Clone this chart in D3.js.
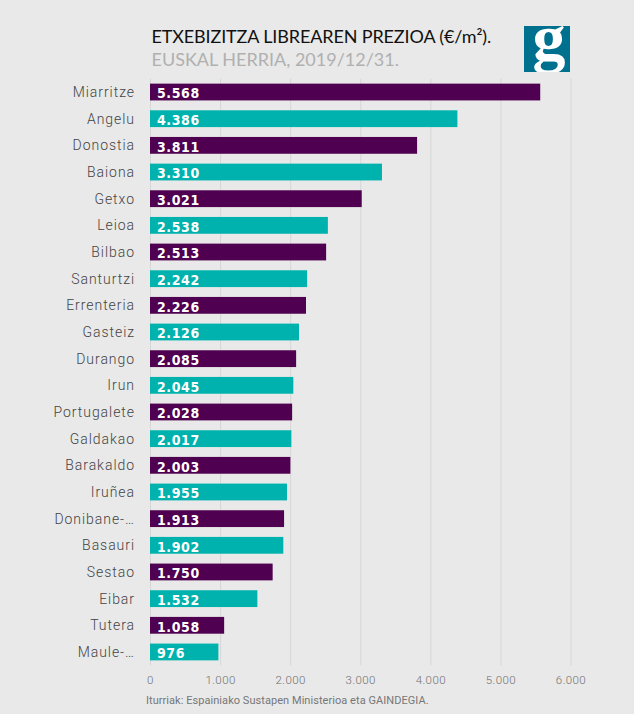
<!DOCTYPE html>
<html>
<head>
<meta charset="utf-8">
<script src="https://d3js.org/d3.v7.min.js"></script>
<style>
  html, body { margin: 0; padding: 0; background: #e9e9e9; }
  svg { display: block; }
  .tick line { stroke: #d6d6d6; }
</style>
</head>
<body>
<div id="chart"></div>
<script>
const towns = ['Miarritze', 'Angelu', 'Donostia', 'Baiona', 'Getxo', 'Leioa', 'Bilbao', 'Santurtzi',
  'Errenteria', 'Gasteiz', 'Durango', 'Irun', 'Portugalete', 'Galdakao', 'Barakaldo', 'Iruñea',
  'Donibane-…', 'Basauri', 'Sestao', 'Eibar', 'Tutera', 'Maule-…'];
const prices = [5568, 4386, 3811, 3310, 3021, 2538, 2513, 2242, 2226, 2126, 2085, 2045, 2028, 2017,
  2003, 1955, 1913, 1902, 1750, 1532, 1058, 976];
const xTicks = [0, 1000, 2000, 3000, 4000, 5000, 6000];
const barColors = ['#4f0050', '#00b2ad'];

const width = 634, height = 714;
const labelFont = 'Roboto, sans-serif';

//dots as thousand separators
const fmt = d => String(d).replace(/\B(?=(\d{3})+$)/g, '.');

const x = d3.scaleLinear().domain([0, 6000]).range([150, 570.5]);
const y = d3.scaleBand().domain(towns).range([78.7, 665.3]).paddingInner(0.37).paddingOuter(0.185);

const svg = d3.select('#chart').append('svg')
  .attr('width', width)
  .attr('height', height);

//gridlines + tick labels
const xAxis = svg.append('g')
  .attr('transform', 'translate(0, 665.3)')
  .call(d3.axisBottom(x).tickValues(xTicks).tickFormat(fmt).tickSize(-586.6).tickPadding(11));
xAxis.select('.domain').remove();
xAxis.selectAll('text')
  .attr('fill', '#6f6f6f')
  .style('font-family', labelFont)
  .style('font-weight', 300)
  .style('font-size', '11.5px')
  .style('letter-spacing', '0.4px');

//bars
svg.selectAll('rect.bar')
  .data(prices)
  .enter()
  .append('rect')
  .attr('class', 'bar')
  .attr('x', x(0))
  .attr('y', (d, i) => y(towns[i]))
  .attr('width', d => x(d) - x(0))
  .attr('height', y.bandwidth())
  .attr('fill', (d, i) => barColors[i % 2]);

//town names
svg.selectAll('text.town')
  .data(towns)
  .enter()
  .append('text')
  .attr('class', 'town')
  .attr('x', 135)
  .attr('y', d => y(d) + y.bandwidth() / 2)
  .attr('dy', '0.35em')
  .attr('text-anchor', 'end')
  .attr('fill', '#444')
  .style('font-family', labelFont)
  .style('font-weight', 300)
  .style('font-size', '14px')
  .style('letter-spacing', '0.95px')
  .text(d => d);

//values inside the bars
svg.selectAll('text.value')
  .data(prices)
  .enter()
  .append('text')
  .attr('class', 'value')
  .attr('x', 157)
  .attr('y', (d, i) => y(towns[i]) + y.bandwidth() / 2)
  .attr('dy', '0.45em')
  .attr('fill', '#fff')
  .style('font-family', '"DejaVu Sans Condensed", "DejaVu Sans", sans-serif')
  .style('font-stretch', 'condensed')
  .style('font-weight', 700)
  .style('font-size', '14px')
  .style('letter-spacing', '0.6px')
  .text(d => fmt(d));

//title
svg.append('text')
  .attr('x', 151.5)
  .attr('y', 43)
  .attr('fill', '#111')
  .style('font-family', 'Lato, sans-serif')
  .style('font-size', '18px')
  .style('letter-spacing', '-0.13px')
  .text('ETXEBIZITZA LIBREAREN PREZIOA (€/m²).');

svg.append('text')
  .attr('x', 151.5)
  .attr('y', 66)
  .attr('fill', '#b0b0b0')
  .style('font-family', 'Lato, sans-serif')
  .style('font-size', '18px')
  .text('EUSKAL HERRIA, 2019/12/31.');

//source
svg.append('text')
  .attr('x', 146)
  .attr('y', 704)
  .attr('fill', '#777')
  .style('font-family', labelFont)
  .style('font-size', '11px')
  .style('letter-spacing', '0.05px')
  .text('Iturriak: Espainiako Sustapen Ministerioa eta GAINDEGIA.');

//logo
svg.append('clipPath').attr('id', 'logoClip')
  .append('rect').attr('x', 524).attr('y', 26).attr('width', 46).attr('height', 46);
const logo = svg.append('g').attr('clip-path', 'url(#logoClip)');
logo.append('rect').attr('x', 524).attr('y', 26).attr('width', 46).attr('height', 46).attr('fill', '#00708f');
logo.append('text')
  .attr('x', 549)
  .attr('y', 60)
  .attr('text-anchor', 'middle')
  .attr('fill', '#fff')
  .style('font-family', '"Liberation Serif", serif')
  .style('font-weight', 700)
  .style('font-size', '66px')
  .text('g');
</script>
</body>
</html>
